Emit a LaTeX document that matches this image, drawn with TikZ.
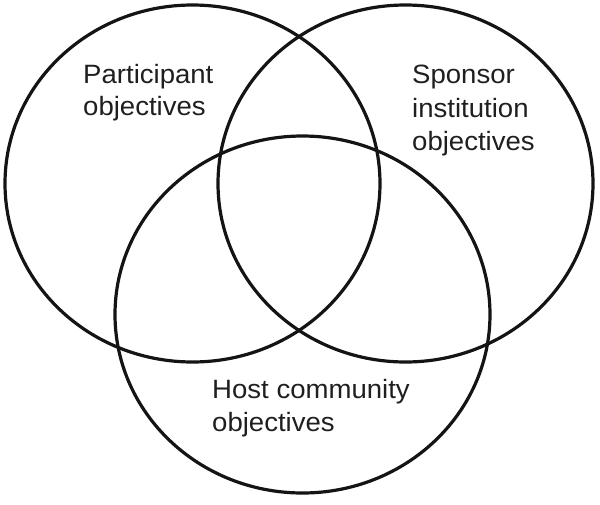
\documentclass[tikz,border=0pt]{standalone}
\usepackage{fontspec}
\setmainfont{Liberation Sans}
\begin{document}
\begin{tikzpicture}[x=1pt,y=-1pt,
  ring/.style={line width=3.2pt,draw=black!92},
  lbl/.style={anchor=base west,inner sep=0pt,text=black!88,
    font=\fontsize{26.5}{32}\selectfont,xscale=1.04,transform shape}]
\useasboundingbox (0,0) rectangle (600,504);
\draw[ring] (192.5,183.5) ellipse [x radius=187.5pt, y radius=178.5pt];
\draw[ring] (405.5,183.5) ellipse [x radius=187.5pt, y radius=178.5pt];
\draw[ring] (302.5,314.5) ellipse [x radius=187.5pt, y radius=178.5pt];
\node[lbl] (p1) at (83,83) {Participant};
\node[lbl] (p2) at (83,115.5) {objectives};
\node[lbl] (s1) at (412,83) {Sponsor};
\node[lbl] (s2) at (412,117) {institution};
\node[lbl] (s3) at (412,150) {objectives};
\node[lbl] (h1) at (212,398.5) {Host community};
\node[lbl] (h2) at (212,431) {objectives};
\end{tikzpicture}
\end{document}
